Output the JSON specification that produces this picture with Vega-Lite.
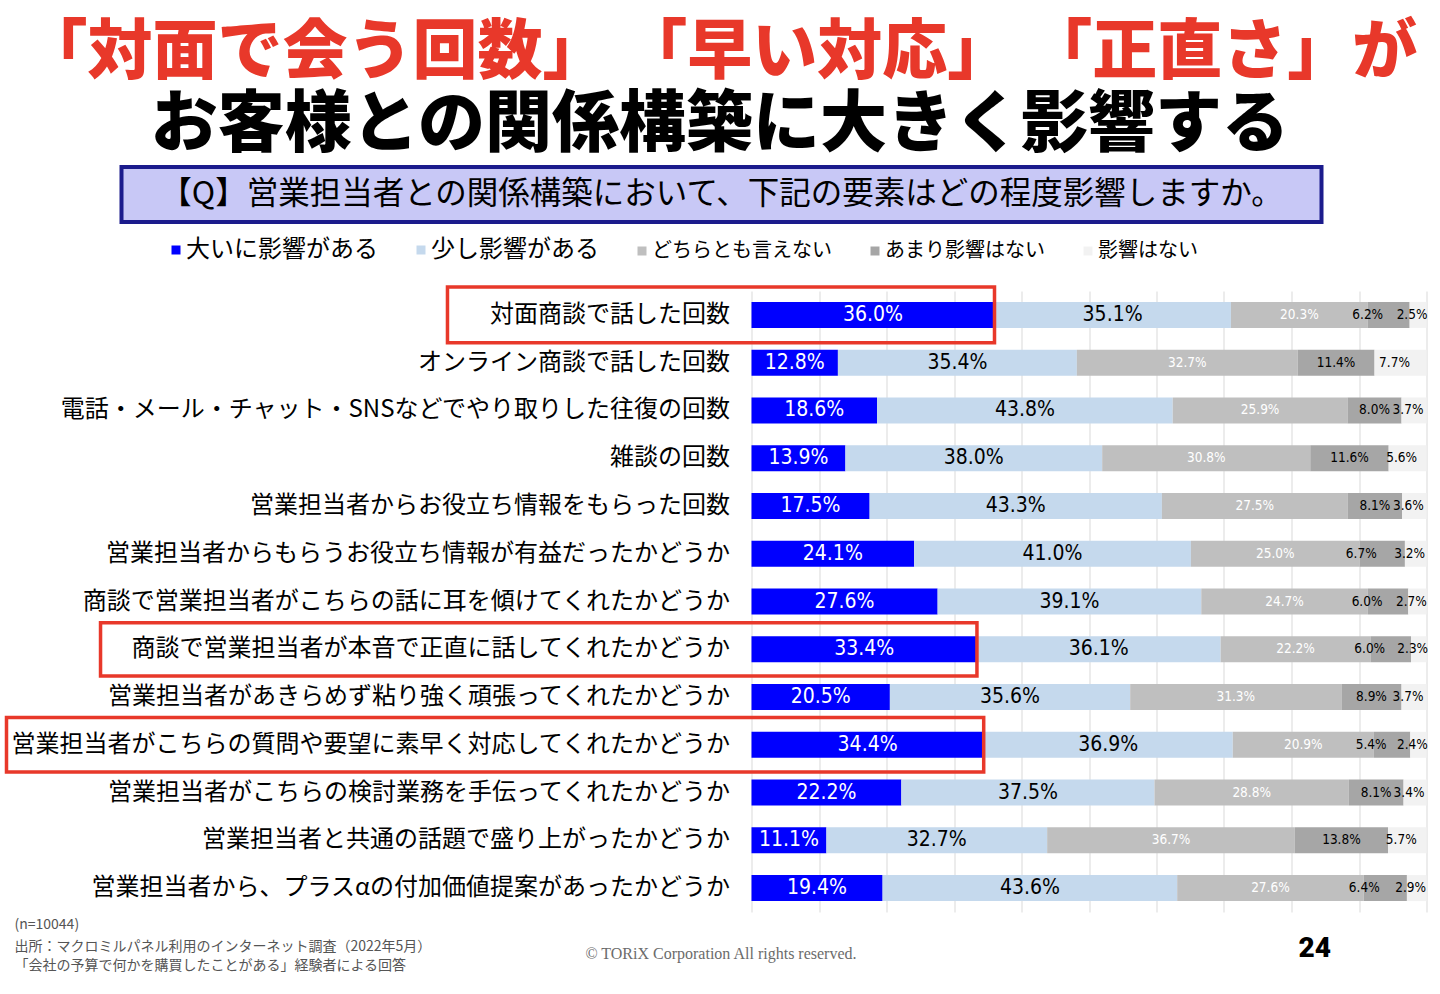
{
  "$schema": "https://vega.github.io/schema/vega-lite/v6.json",
  "background": "white",
  "padding": {"left": 3.5, "top": 21, "right": 0, "bottom": 0},
  "title": {
    "text": "「対面で会う回数」 「早い対応」 「正直さ」が",
    "subtitle": "お客様との関係構築に大きく影響する",
    "anchor": "middle",
    "font": "Noto Sans CJK JP",
    "subtitleFont": "Noto Sans CJK JP",
    "fontSize": 65,
    "subtitleFontSize": 67,
    "fontWeight": 900,
    "subtitleFontWeight": 900,
    "color": "#E8382A",
    "subtitleColor": "#000000",
    "subtitlePadding": 6,
    "offset": 5,
    "dx": 4
  },
  "config": {"view": {"stroke": null}, "font": "Noto Sans CJK JP"},
  "data": {"values": [
    {"item": "対面商談で話した回数", "series": "大いに影響がある", "k": 1, "v": 0.360},
    {"item": "対面商談で話した回数", "series": "少し影響がある", "k": 2, "v": 0.351},
    {"item": "対面商談で話した回数", "series": "どちらとも言えない", "k": 3, "v": 0.203},
    {"item": "対面商談で話した回数", "series": "あまり影響はない", "k": 4, "v": 0.062},
    {"item": "対面商談で話した回数", "series": "影響はない", "k": 5, "v": 0.025},
    {"item": "オンライン商談で話した回数", "series": "大いに影響がある", "k": 1, "v": 0.128},
    {"item": "オンライン商談で話した回数", "series": "少し影響がある", "k": 2, "v": 0.354},
    {"item": "オンライン商談で話した回数", "series": "どちらとも言えない", "k": 3, "v": 0.327},
    {"item": "オンライン商談で話した回数", "series": "あまり影響はない", "k": 4, "v": 0.114},
    {"item": "オンライン商談で話した回数", "series": "影響はない", "k": 5, "v": 0.077},
    {"item": "電話・メール・チャット・SNSなどでやり取りした往復の回数", "series": "大いに影響がある", "k": 1, "v": 0.186},
    {"item": "電話・メール・チャット・SNSなどでやり取りした往復の回数", "series": "少し影響がある", "k": 2, "v": 0.438},
    {"item": "電話・メール・チャット・SNSなどでやり取りした往復の回数", "series": "どちらとも言えない", "k": 3, "v": 0.259},
    {"item": "電話・メール・チャット・SNSなどでやり取りした往復の回数", "series": "あまり影響はない", "k": 4, "v": 0.080},
    {"item": "電話・メール・チャット・SNSなどでやり取りした往復の回数", "series": "影響はない", "k": 5, "v": 0.037},
    {"item": "雑談の回数", "series": "大いに影響がある", "k": 1, "v": 0.139},
    {"item": "雑談の回数", "series": "少し影響がある", "k": 2, "v": 0.380},
    {"item": "雑談の回数", "series": "どちらとも言えない", "k": 3, "v": 0.308},
    {"item": "雑談の回数", "series": "あまり影響はない", "k": 4, "v": 0.116},
    {"item": "雑談の回数", "series": "影響はない", "k": 5, "v": 0.056},
    {"item": "営業担当者からお役立ち情報をもらった回数", "series": "大いに影響がある", "k": 1, "v": 0.175},
    {"item": "営業担当者からお役立ち情報をもらった回数", "series": "少し影響がある", "k": 2, "v": 0.433},
    {"item": "営業担当者からお役立ち情報をもらった回数", "series": "どちらとも言えない", "k": 3, "v": 0.275},
    {"item": "営業担当者からお役立ち情報をもらった回数", "series": "あまり影響はない", "k": 4, "v": 0.081},
    {"item": "営業担当者からお役立ち情報をもらった回数", "series": "影響はない", "k": 5, "v": 0.036},
    {"item": "営業担当者からもらうお役立ち情報が有益だったかどうか", "series": "大いに影響がある", "k": 1, "v": 0.241},
    {"item": "営業担当者からもらうお役立ち情報が有益だったかどうか", "series": "少し影響がある", "k": 2, "v": 0.410},
    {"item": "営業担当者からもらうお役立ち情報が有益だったかどうか", "series": "どちらとも言えない", "k": 3, "v": 0.250},
    {"item": "営業担当者からもらうお役立ち情報が有益だったかどうか", "series": "あまり影響はない", "k": 4, "v": 0.067},
    {"item": "営業担当者からもらうお役立ち情報が有益だったかどうか", "series": "影響はない", "k": 5, "v": 0.032},
    {"item": "商談で営業担当者がこちらの話に耳を傾けてくれたかどうか", "series": "大いに影響がある", "k": 1, "v": 0.276},
    {"item": "商談で営業担当者がこちらの話に耳を傾けてくれたかどうか", "series": "少し影響がある", "k": 2, "v": 0.391},
    {"item": "商談で営業担当者がこちらの話に耳を傾けてくれたかどうか", "series": "どちらとも言えない", "k": 3, "v": 0.247},
    {"item": "商談で営業担当者がこちらの話に耳を傾けてくれたかどうか", "series": "あまり影響はない", "k": 4, "v": 0.060},
    {"item": "商談で営業担当者がこちらの話に耳を傾けてくれたかどうか", "series": "影響はない", "k": 5, "v": 0.027},
    {"item": "商談で営業担当者が本音で正直に話してくれたかどうか", "series": "大いに影響がある", "k": 1, "v": 0.334},
    {"item": "商談で営業担当者が本音で正直に話してくれたかどうか", "series": "少し影響がある", "k": 2, "v": 0.361},
    {"item": "商談で営業担当者が本音で正直に話してくれたかどうか", "series": "どちらとも言えない", "k": 3, "v": 0.222},
    {"item": "商談で営業担当者が本音で正直に話してくれたかどうか", "series": "あまり影響はない", "k": 4, "v": 0.060},
    {"item": "商談で営業担当者が本音で正直に話してくれたかどうか", "series": "影響はない", "k": 5, "v": 0.023},
    {"item": "営業担当者があきらめず粘り強く頑張ってくれたかどうか", "series": "大いに影響がある", "k": 1, "v": 0.205},
    {"item": "営業担当者があきらめず粘り強く頑張ってくれたかどうか", "series": "少し影響がある", "k": 2, "v": 0.356},
    {"item": "営業担当者があきらめず粘り強く頑張ってくれたかどうか", "series": "どちらとも言えない", "k": 3, "v": 0.313},
    {"item": "営業担当者があきらめず粘り強く頑張ってくれたかどうか", "series": "あまり影響はない", "k": 4, "v": 0.089},
    {"item": "営業担当者があきらめず粘り強く頑張ってくれたかどうか", "series": "影響はない", "k": 5, "v": 0.037},
    {"item": "営業担当者がこちらの質問や要望に素早く対応してくれたかどうか", "series": "大いに影響がある", "k": 1, "v": 0.344},
    {"item": "営業担当者がこちらの質問や要望に素早く対応してくれたかどうか", "series": "少し影響がある", "k": 2, "v": 0.369},
    {"item": "営業担当者がこちらの質問や要望に素早く対応してくれたかどうか", "series": "どちらとも言えない", "k": 3, "v": 0.209},
    {"item": "営業担当者がこちらの質問や要望に素早く対応してくれたかどうか", "series": "あまり影響はない", "k": 4, "v": 0.054},
    {"item": "営業担当者がこちらの質問や要望に素早く対応してくれたかどうか", "series": "影響はない", "k": 5, "v": 0.024},
    {"item": "営業担当者がこちらの検討業務を手伝ってくれたかどうか", "series": "大いに影響がある", "k": 1, "v": 0.222},
    {"item": "営業担当者がこちらの検討業務を手伝ってくれたかどうか", "series": "少し影響がある", "k": 2, "v": 0.375},
    {"item": "営業担当者がこちらの検討業務を手伝ってくれたかどうか", "series": "どちらとも言えない", "k": 3, "v": 0.288},
    {"item": "営業担当者がこちらの検討業務を手伝ってくれたかどうか", "series": "あまり影響はない", "k": 4, "v": 0.081},
    {"item": "営業担当者がこちらの検討業務を手伝ってくれたかどうか", "series": "影響はない", "k": 5, "v": 0.034},
    {"item": "営業担当者と共通の話題で盛り上がったかどうか", "series": "大いに影響がある", "k": 1, "v": 0.111},
    {"item": "営業担当者と共通の話題で盛り上がったかどうか", "series": "少し影響がある", "k": 2, "v": 0.327},
    {"item": "営業担当者と共通の話題で盛り上がったかどうか", "series": "どちらとも言えない", "k": 3, "v": 0.367},
    {"item": "営業担当者と共通の話題で盛り上がったかどうか", "series": "あまり影響はない", "k": 4, "v": 0.138},
    {"item": "営業担当者と共通の話題で盛り上がったかどうか", "series": "影響はない", "k": 5, "v": 0.057},
    {"item": "営業担当者から、プラスαの付加価値提案があったかどうか", "series": "大いに影響がある", "k": 1, "v": 0.194},
    {"item": "営業担当者から、プラスαの付加価値提案があったかどうか", "series": "少し影響がある", "k": 2, "v": 0.436},
    {"item": "営業担当者から、プラスαの付加価値提案があったかどうか", "series": "どちらとも言えない", "k": 3, "v": 0.276},
    {"item": "営業担当者から、プラスαの付加価値提案があったかどうか", "series": "あまり影響はない", "k": 4, "v": 0.064},
    {"item": "営業担当者から、プラスαの付加価値提案があったかどうか", "series": "影響はない", "k": 5, "v": 0.029}
  ]},
  "spacing": 4,
  "vconcat": [
    {
      "spacing": 0,
      "hconcat": [
        {"width": 115.5, "height": 114, "data": {"values": []}, "mark": "point", "encoding": {}},
        {
          "width": 1200,
          "height": 55,
          "data": {"values": [{"q": "【Q】営業担当者との関係構築において、下記の要素はどの程度影響しますか。"}]},
          "mark": {"type": "text", "fontSize": 31.5, "font": "Noto Sans CJK JP", "color": "#000000"},
          "encoding": {"text": {"field": "q", "type": "nominal"}},
          "view": {"fill": "#C8C8F6", "stroke": "#1B1B8C", "strokeWidth": 4}
        }
      ]
    },
    {
      "spacing": 0,
      "hconcat": [
        {"width": 1, "height": 1, "data": {"values": []}, "mark": "point", "encoding": {}},
        {
          "width": 675,
          "height": 621,
          "encoding": {
            "y": {
              "field": "item",
              "type": "nominal",
              "scale": {
                "domain": [
                  "対面商談で話した回数",
                  "オンライン商談で話した回数",
                  "電話・メール・チャット・SNSなどでやり取りした往復の回数",
                  "雑談の回数",
                  "営業担当者からお役立ち情報をもらった回数",
                  "営業担当者からもらうお役立ち情報が有益だったかどうか",
                  "商談で営業担当者がこちらの話に耳を傾けてくれたかどうか",
                  "商談で営業担当者が本音で正直に話してくれたかどうか",
                  "営業担当者があきらめず粘り強く頑張ってくれたかどうか",
                  "営業担当者がこちらの質問や要望に素早く対応してくれたかどうか",
                  "営業担当者がこちらの検討業務を手伝ってくれたかどうか",
                  "営業担当者と共通の話題で盛り上がったかどうか",
                  "営業担当者から、プラスαの付加価値提案があったかどうか"
                ],
                "paddingInner": 0.456,
                "paddingOuter": 0.228
              },
              "axis": {
                "title": null,
                "domain": false,
                "ticks": false,
                "grid": false,
                "labelFontSize": 24,
                "labelFont": "Noto Sans CJK JP",
                "labelColor": "#000000",
                "labelPadding": 22,
                "labelLimit": 0
              }
            }
          },
          "layer": [
            {
              "mark": {"type": "bar"},
              "encoding": {
                "x": {
                  "field": "v",
                  "type": "quantitative",
                  "stack": "normalize",
                  "scale": {"domain": [0, 1], "nice": false},
                  "axis": {"labels": false, "ticks": false, "domain": false, "title": null, "grid": true, "gridColor": "#D9D9D9", "tickCount": 10}
                },
                "color": {
                  "field": "series",
                  "type": "nominal",
                  "scale": {
                    "domain": ["大いに影響がある", "少し影響がある", "どちらとも言えない", "あまり影響はない", "影響はない"],
                    "range": ["#0000FF", "#C5D9ED", "#BFBFBF", "#A6A6A6", "#F2F2F2"]
                  },
                  "legend": {
                    "orient": "none",
                    "legendX": 162.5,
                    "legendY": 73,
                    "direction": "horizontal",
                    "columns": 5,
                    "title": null,
                    "symbolType": "square",
                    "symbolSize": 81,
                    "symbolStrokeWidth": 0,
                    "labelFontSize": 22,
                    "labelFont": "Noto Sans CJK JP",
                    "labelColor": "#000000",
                    "labelOffset": 0,
                    "labelLimit": 0,
                    "columnPadding": 33,
                    "padding": 0,
                    "encode": {
                      "labels": {
                        "update": {
                          "fontSize": {"signal": "datum.value === '大いに影響がある' || datum.value === '少し影響がある' ? 24 : 20"}
                        }
                      }
                    }
                  }
                },
                "order": {"field": "k", "type": "quantitative"}
              }
            },
            {
              "mark": {
                "type": "text",
                "font": "Liberation Sans Narrow, DejaVu Sans Condensed, Liberation Sans, sans-serif",
                "dx": {"expr": "datum.k == 4 && datum.v < 0.075 ? -21 : (datum.k == 5 ? -6 : 0)"}
              },
              "encoding": {
                "x": {
                  "field": "v",
                  "type": "quantitative",
                  "stack": "normalize",
                  "bandPosition": 0.5,
                  "scale": {"domain": [0, 1], "nice": false}
                },
                "detail": {"field": "series", "type": "nominal"},
                "order": {"field": "k", "type": "quantitative"},
                "text": {"field": "v", "type": "quantitative", "format": ".1%"},
                "color": {"condition": {"test": "datum.k == 1 || datum.k == 3", "value": "#FFFFFF"}, "value": "#000000"},
                "size": {"condition": {"test": "datum.k <= 2", "value": 21}, "value": 13.5}
              }
            },
            {
              "transform": [{"filter": "datum.k == 1 && datum.item == '対面商談で話した回数'"}],
              "mark": {"type": "bar", "height": {"band": 2.15}, "fillOpacity": 0, "stroke": "#E8382A", "strokeWidth": 3.5},
              "encoding": {
                "x": {"field": "v", "type": "quantitative", "scale": {"domain": [0, 1], "nice": false}},
                "x2": {"datum": -0.4504}
              }
            },
            {
              "transform": [{"filter": "datum.k == 1 && datum.item == '商談で営業担当者が本音で正直に話してくれたかどうか'"}],
              "mark": {"type": "bar", "height": {"band": 2.05}, "fillOpacity": 0, "stroke": "#E8382A", "strokeWidth": 3.5},
              "encoding": {
                "x": {"field": "v", "type": "quantitative", "scale": {"domain": [0, 1], "nice": false}},
                "x2": {"datum": -0.9644}
              }
            },
            {
              "transform": [{"filter": "datum.k == 1 && datum.item == '営業担当者がこちらの質問や要望に素早く対応してくれたかどうか'"}],
              "mark": {"type": "bar", "height": {"band": 2.1}, "fillOpacity": 0, "stroke": "#E8382A", "strokeWidth": 3.5},
              "encoding": {
                "x": {"field": "v", "type": "quantitative", "scale": {"domain": [0, 1], "nice": false}},
                "x2": {"datum": -1.1037}
              }
            }
          ]
        }
      ]
    },
    {
      "spacing": 0,
      "hconcat": [
        {
          "width": 440,
          "height": 1,
          "data": {"values": []},
          "mark": "point",
          "encoding": {},
          "title": {
            "text": "(n=10044)",
            "subtitle": ["出所：マクロミルパネル利用のインターネット調査（2022年5月）", "「会社の予算で何かを購買したことがある」経験者による回答"],
            "orient": "bottom",
            "anchor": "start",
            "font": "Noto Sans CJK JP",
            "subtitleFont": "Noto Sans CJK JP",
            "fontSize": 14,
            "subtitleFontSize": 14,
            "fontWeight": "normal",
            "color": "#555555",
            "subtitleColor": "#555555",
            "subtitlePadding": 8,
            "subtitleLineHeight": 19,
            "offset": 1,
            "dx": 11
          }
        },
        {
          "width": 555,
          "height": 1,
          "data": {"values": []},
          "mark": "point",
          "encoding": {},
          "title": {
            "text": "© TORiX Corporation All rights reserved.",
            "orient": "bottom",
            "anchor": "middle",
            "font": "Liberation Serif, DejaVu Serif, serif",
            "fontSize": 16,
            "fontWeight": "normal",
            "color": "#6B6B6B",
            "offset": 29
          }
        },
        {
          "width": 332.5,
          "height": 1,
          "data": {"values": []},
          "mark": "point",
          "encoding": {},
          "title": {
            "text": "24",
            "orient": "bottom",
            "anchor": "end",
            "font": "Roboto, Noto Sans, sans-serif",
            "fontSize": 28,
            "fontWeight": 900,
            "color": "#000000",
            "offset": 18
          }
        }
      ]
    }
  ]
}
